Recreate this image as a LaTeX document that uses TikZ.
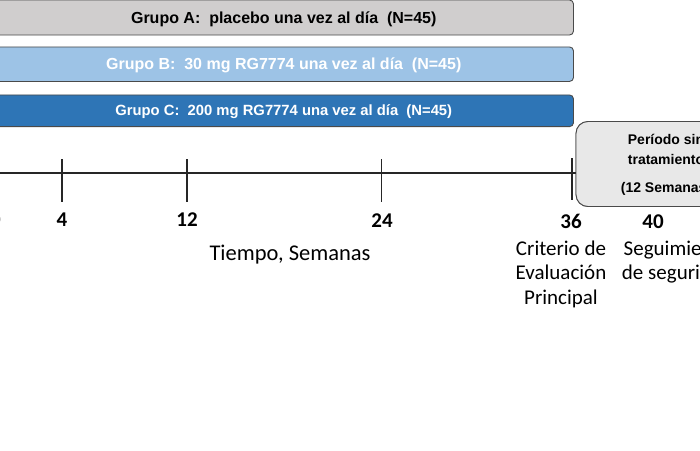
\documentclass[tikz,border=0pt]{standalone}
\usepackage{fontspec}
\setmainfont{Carlito}
\newfontfamily\barfont{Liberation Sans}
\definecolor{grayA}{HTML}{D0CECE}
\definecolor{blueB}{HTML}{9DC3E6}
\definecolor{blueC}{HTML}{2E75B6}
\definecolor{edgecol}{HTML}{4A4A4A}
\definecolor{boxfill}{HTML}{E8E8E8}
\begin{document}
\begin{tikzpicture}[x=1pt,y=-1pt,
  bar/.style={draw=edgecol, line width=0.9pt, rounded corners=4pt,
    minimum width=579.5pt, inner sep=0pt, text depth=0pt,
    font=\barfont\bfseries\fontsize{16}{19}\selectfont},
  axisline/.style={line width=1.7pt, black!85},
  tickline/.style={line width=1.5pt, black!85},
  ticklbl/.style={anchor=base, inner sep=0pt, font=\bfseries\fontsize{21}{25}\selectfont},
  lbl/.style={anchor=base, inner sep=0pt, font=\fontsize{21}{25}\selectfont},
  restbox/.style={draw=edgecol, fill=boxfill, line width=0.9pt, rounded corners=12pt,
    minimum width=180pt, minimum height=85pt, inner sep=0pt},
  restlbl/.style={anchor=base, inner sep=0pt, font=\barfont\bfseries\fontsize{14}{17}\selectfont}
]
\useasboundingbox (0,0) rectangle (700,450);
\clip (0,0) rectangle (700,450);

% treatment bars
\node[bar, fill=grayA, minimum height=35pt, text height=11.5pt] (barA) at (283.75,17.5)
  {Grupo A:\ \ placebo una vez al día\ \ (N=45)};
\node[bar, fill=blueB, text=white, minimum height=34.5pt, text height=11.5pt] (barB) at (283.75,64.2)
  {Grupo B:\ \ 30 mg RG7774 una vez al día\ \ (N=45)};
\node[bar, fill=blueC, text=white, minimum height=31.7pt, text height=10.6pt, text depth=2pt,
  font=\barfont\bfseries\fontsize{14.8}{18}\selectfont] (barC) at (283.75,110.8)
  {Grupo C:\ \ 200 mg RG7774 una vez al día\ \ (N=45)};

% time axis
\coordinate (tl0) at (-6,173);
\coordinate (t4) at (62,173);
\coordinate (t12) at (187,173);
\coordinate (t24) at (381.5,173);
\coordinate (t36) at (572,173);

\node[restbox] (rest) at (666,164) {};
\draw[axisline] (tl0) -- (tl0 -| rest.west);
\foreach \t in {t4,t12,t24}{
  \draw[tickline] (\t) ++(0,-14) -- ++(0,43);
}
\draw[tickline] (t36) ++(0,-15) -- ++(0,42);
% off-treatment box on top of the axis end
\node[restbox] (restb) at (rest.center) {};
\node[restlbl] (rest1) at (666,144.5) {Período sin};
\node[restlbl] (rest2) at (666,164.5) {tratamiento};
\node[restlbl] (rest3) at (666,192.5) {(12 Semanas)};

% tick labels
\node[ticklbl] (l0) at (-4.5,226) {0};
\node[ticklbl] (l4) at (62,226) {4};
\node[ticklbl] (l12) at (187,226) {12};
\node[ticklbl] (l24) at (382,227) {24};
\node[ticklbl] (l36) at (571,228) {36};
\node[ticklbl] (l40) at (653,228) {40};

% axis title
\node[lbl, font=\fontsize{22.5}{27}\selectfont] (title) at (290,260) {Tiempo, Semanas};

% milestone labels
\node[lbl] (crit1) at (561,255) {Criterio de};
\node[lbl] (crit2) at (561,279.5) {Evaluación};
\node[lbl] (crit3) at (561,304) {Principal};
\node[lbl] (seg1) at (677,255) {Seguimiento};
\node[lbl] (seg2) at (677,279.5) {de seguridad};
\end{tikzpicture}
\end{document}
